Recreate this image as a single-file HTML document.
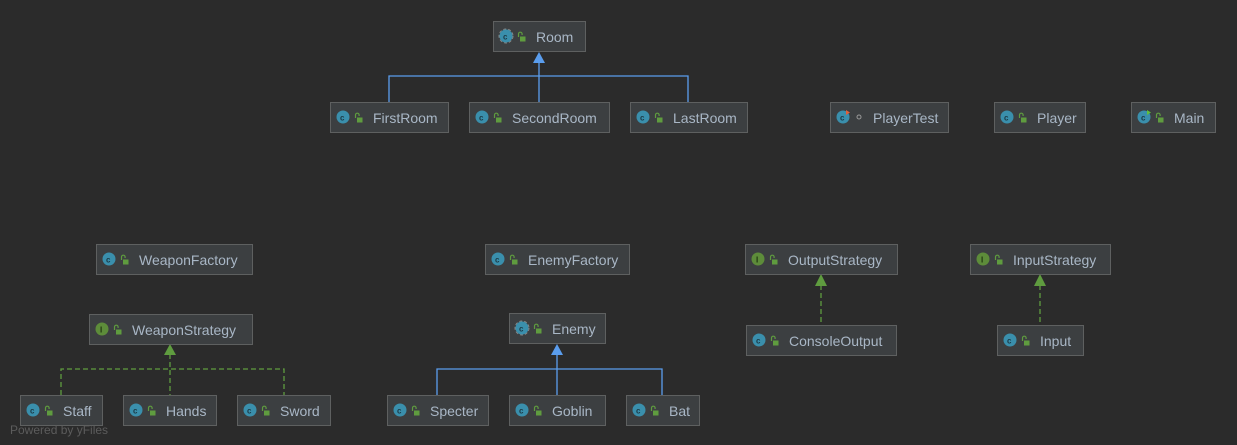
<!DOCTYPE html>
<html><head><style>
html,body{margin:0;padding:0;background:#2b2b2b;}
svg{display:block;}
text{font-family:"Liberation Sans","DejaVu Sans",sans-serif;font-size:14px;fill:#a9b7c6;}
.b{fill:#3c3f41;stroke:#5e6060;stroke-width:1;}
</style></head><body>
<svg width="1237" height="445" viewBox="0 0 1237 445" xmlns="http://www.w3.org/2000/svg">
<defs>
<g id="ci"><circle cx="0" cy="0" r="6.5" fill="#3a8fac"/><text x="-3" y="3.5" style="font-size:8px;fill:#1c3a46;font-weight:bold">c</text></g>
<g id="ii"><circle cx="0" cy="0" r="6.5" fill="#5d8c3a"/><text x="-2" y="3.5" style="font-size:8px;fill:#203510;font-weight:bold">I</text></g>
<g id="lk"><rect x="-1" y="-0.5" width="5.5" height="5" fill="#5f9c3f"/><path d="M-2.5,0 v-3 a1.8,1.8 0 0 1 3.6,0 v1" stroke="#5f9c3f" stroke-width="1.2" fill="none"/></g>
</defs>

<g stroke="#5a9ded" stroke-width="1.3" fill="none">
<path d="M539,62 V102 M389,102 V76 H688 V102"/>
<path d="M557,354 V395 M437,395 V369 H662 V395"/>
</g>
<polygon points="539,52 533,63 545,63" fill="#5a9ded"/>
<polygon points="557,344 551,355 563,355" fill="#5a9ded"/>
<g stroke="#5f9c3f" stroke-width="1.3" fill="none" stroke-dasharray="5,3">
<path d="M170,354 V395 M61,395 V369 H284 V395"/>
<path d="M821,285 V325"/>
<path d="M1040,285 V325"/>
</g>
<polygon points="170,344 164,355 176,355" fill="#5f9c3f"/>
<polygon points="821,274 815,286 827,286" fill="#5f9c3f"/>
<polygon points="1040,274 1034,286 1046,286" fill="#5f9c3f"/>

<g>
<rect class="b" x="493.5" y="21.5" width="92" height="30"/><circle cx="506" cy="36" r="7" fill="none" stroke="#888" stroke-width="1" stroke-dasharray="3,2"/><use href="#ci" x="506" y="36"/><use href="#lk" x="521" y="37"/><text x="536" y="42">Room</text>

<rect class="b" x="330.5" y="102.5" width="118" height="30"/><use href="#ci" x="343" y="117"/><use href="#lk" x="358" y="118"/><text x="373" y="123">FirstRoom</text>
<rect class="b" x="469.5" y="102.5" width="140" height="30"/><use href="#ci" x="482" y="117"/><use href="#lk" x="497" y="118"/><text x="512" y="123">SecondRoom</text>
<rect class="b" x="630.5" y="102.5" width="117" height="30"/><use href="#ci" x="643" y="117"/><use href="#lk" x="658" y="118"/><text x="673" y="123">LastRoom</text>

<rect class="b" x="830.5" y="102.5" width="118" height="30"/><use href="#ci" x="843" y="117"/><path d="M846,110 l4,2.5 -4,2.5z" fill="#e0603a"/><circle cx="859" cy="117" r="2" fill="none" stroke="#999"/><text x="873" y="123">PlayerTest</text>
<rect class="b" x="994.5" y="102.5" width="91" height="30"/><use href="#ci" x="1007" y="117"/><use href="#lk" x="1022" y="118"/><text x="1037" y="123">Player</text>
<rect class="b" x="1131.5" y="102.5" width="84" height="30"/><use href="#ci" x="1144" y="117"/><path d="M1147,110 l4,2.5 -4,2.5z" fill="#5fbf3f"/><use href="#lk" x="1159" y="118"/><text x="1174" y="123">Main</text>

<rect class="b" x="96.5" y="244.5" width="156" height="30"/><use href="#ci" x="109" y="259"/><use href="#lk" x="124" y="260"/><text x="139" y="265">WeaponFactory</text>
<rect class="b" x="485.5" y="244.5" width="144" height="30"/><use href="#ci" x="498" y="259"/><use href="#lk" x="513" y="260"/><text x="528" y="265">EnemyFactory</text>
<rect class="b" x="745.5" y="244.5" width="152" height="30"/><use href="#ii" x="758" y="259"/><use href="#lk" x="773" y="260"/><text x="788" y="265">OutputStrategy</text>
<rect class="b" x="970.5" y="244.5" width="140" height="30"/><use href="#ii" x="983" y="259"/><use href="#lk" x="998" y="260"/><text x="1013" y="265">InputStrategy</text>

<rect class="b" x="89.5" y="314.5" width="163" height="30"/><use href="#ii" x="102" y="329"/><use href="#lk" x="117" y="330"/><text x="132" y="335">WeaponStrategy</text>
<rect class="b" x="509.5" y="313.5" width="96" height="30"/><circle cx="522" cy="328" r="7" fill="none" stroke="#888" stroke-width="1" stroke-dasharray="3,2"/><use href="#ci" x="522" y="328"/><use href="#lk" x="537" y="329"/><text x="552" y="334">Enemy</text>
<rect class="b" x="746.5" y="325.5" width="150" height="30"/><use href="#ci" x="759" y="340"/><use href="#lk" x="774" y="341"/><text x="789" y="346">ConsoleOutput</text>
<rect class="b" x="997.5" y="325.5" width="86" height="30"/><use href="#ci" x="1010" y="340"/><use href="#lk" x="1025" y="341"/><text x="1040" y="346">Input</text>

<rect class="b" x="20.5" y="395.5" width="82" height="30"/><use href="#ci" x="33" y="410"/><use href="#lk" x="48" y="411"/><text x="63" y="416">Staff</text>
<rect class="b" x="123.5" y="395.5" width="93" height="30"/><use href="#ci" x="136" y="410"/><use href="#lk" x="151" y="411"/><text x="166" y="416">Hands</text>
<rect class="b" x="237.5" y="395.5" width="93" height="30"/><use href="#ci" x="250" y="410"/><use href="#lk" x="265" y="411"/><text x="280" y="416">Sword</text>
<rect class="b" x="387.5" y="395.5" width="101" height="30"/><use href="#ci" x="400" y="410"/><use href="#lk" x="415" y="411"/><text x="430" y="416">Specter</text>
<rect class="b" x="509.5" y="395.5" width="96" height="30"/><use href="#ci" x="522" y="410"/><use href="#lk" x="537" y="411"/><text x="552" y="416">Goblin</text>
<rect class="b" x="626.5" y="395.5" width="73" height="30"/><use href="#ci" x="639" y="410"/><use href="#lk" x="654" y="411"/><text x="669" y="416">Bat</text>
</g>
<text x="10" y="434" style="font-size:12px;fill:#5c5c5c">Powered by yFiles</text>
</svg>
</body></html>
